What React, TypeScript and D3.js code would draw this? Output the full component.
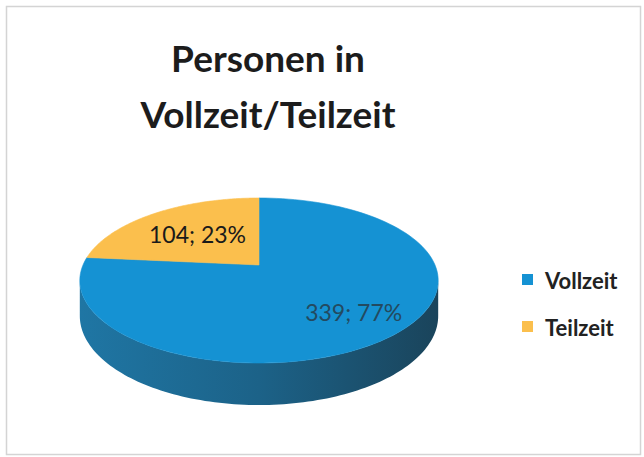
import { useEffect, useRef } from 'react';
import * as d3 from 'd3';

const categories = ['Vollzeit', 'Teilzeit'];
const values = [339, 104];
const percentLabels = ['77%', '23%'];
const titleLines = ['Personen in', 'Vollzeit/Teilzeit'];

const topColors = ['#1592d3', '#fbbf4d'];
const labelColors = ['#234a60', '#1a1a1a'];
const labelRadius = [0.72, 0.56];

const W = 644;
const H = 457;

export default function App() {
  const svgRef = useRef<SVGSVGElement>(null);

  useEffect(() => {
    if (!svgRef.current) return;
    const svg = d3.select(svgRef.current);
    svg.selectAll('*').remove();

    // perspective disc: centre, half width, half height, foreshortening
    const cx = 259;
    const cy = 265;
    const A = 176;
    const B = 79.6;
    const k = 0.188;
    const depth = 42;

    const proj = (phi: number, r = 1): [number, number] => {
      const d = 1 + k * r * Math.cos(phi);
      return [cx + (A * r * Math.sin(phi)) / d, cy - (B * r * Math.cos(phi)) / d];
    };
    const sideH = (phi: number) => (depth * (1 - k)) / (1 + k * Math.cos(phi));

    const pie = d3.pie<number>().sort(null).value(d => d);
    const arcs = pie(values);

    const defs = svg.append('defs');
    const grad = defs.append('linearGradient').attr('id', 'side-grad').attr('x1', '0%').attr('x2', '100%');
    grad.append('stop').attr('offset', '0%').attr('stop-color', '#1f76a4');
    grad.append('stop').attr('offset', '50%').attr('stop-color', '#1c6288');
    grad.append('stop').attr('offset', '100%').attr('stop-color', '#1a445b');

    // frame
    svg.append('rect')
      .attr('x', 6.5).attr('y', 6.5).attr('width', 634).attr('height', 448)
      .attr('fill', '#fff').attr('stroke', '#d4d4d4').attr('stroke-width', 1.5);

    // title
    titleLines.forEach((t, i) => {
      svg.append('text')
        .attr('x', 268).attr('y', 72 + i * 56)
        .attr('text-anchor', 'middle')
        .attr('font-family', 'Lato, "Open Sans", sans-serif')
        .attr('font-weight', 'bold')
        .attr('font-size', 37)
        .attr('fill', '#1c1c1c')
        .text(t);
    });

    const line = d3.line<[number, number]>();
    const N = 120;

    // visible side wall
    const phiA = Math.acos(-k);
    const phiB = 2 * Math.PI - phiA;
    arcs.forEach(a => {
      const s = Math.max(a.startAngle, phiA);
      const e = Math.min(a.endAngle, phiB);
      if (e <= s) return;
      const topPts: [number, number][] = [];
      const botPts: [number, number][] = [];
      for (let j = 0; j <= N; j++) {
        const phi = s + ((e - s) * j) / N;
        const p = proj(phi);
        topPts.push(p);
        botPts.push([p[0], p[1] + sideH(phi)]);
      }
      svg.append('path')
        .attr('d', line([...topPts, ...botPts.reverse()]) + 'Z')
        .attr('fill', a.index === 0 ? 'url(#side-grad)' : '#c9952f');
    });

    // top face slices
    arcs.forEach(a => {
      const pts: [number, number][] = [proj(0, 0)];
      for (let j = 0; j <= N; j++) {
        const phi = a.startAngle + ((a.endAngle - a.startAngle) * j) / N;
        pts.push(proj(phi));
      }
      svg.append('path')
        .attr('d', line(pts) + 'Z')
        .attr('fill', topColors[a.index])
        .attr('stroke', topColors[a.index])
        .attr('stroke-width', 0.6);
    });

    // data labels
    arcs.forEach(a => {
      const mid = (a.startAngle + a.endAngle) / 2;
      const [x, y] = proj(mid, labelRadius[a.index]);
      svg.append('text')
        .attr('x', x).attr('y', y)
        .attr('text-anchor', 'middle')
        .attr('dominant-baseline', 'central')
        .attr('font-family', 'Lato, "Open Sans", sans-serif')
        .attr('font-size', 23)
        .attr('fill', labelColors[a.index])
        .text(`${values[a.index]}; ${percentLabels[a.index]}`);
    });

    // legend
    categories.forEach((c, i) => {
      const y = 280 + i * 47;
      svg.append('rect')
        .attr('x', 522).attr('y', y - 6).attr('width', 11).attr('height', 11)
        .attr('fill', topColors[i]);
      svg.append('text')
        .attr('x', 545).attr('y', y)
        .attr('dominant-baseline', 'central')
        .attr('font-family', 'Lato, "Open Sans", sans-serif')
        .attr('font-weight', 'bold')
        .attr('font-size', 22)
        .attr('fill', '#222')
        .text(c);
    });
  }, []);

  return (
    <svg
      ref={svgRef}
      width={W}
      height={H}
      viewBox={`0 0 ${W} ${H}`}
      style={{ position: 'absolute', left: 0, top: 0, background: '#fff' }}
    />
  );
}
